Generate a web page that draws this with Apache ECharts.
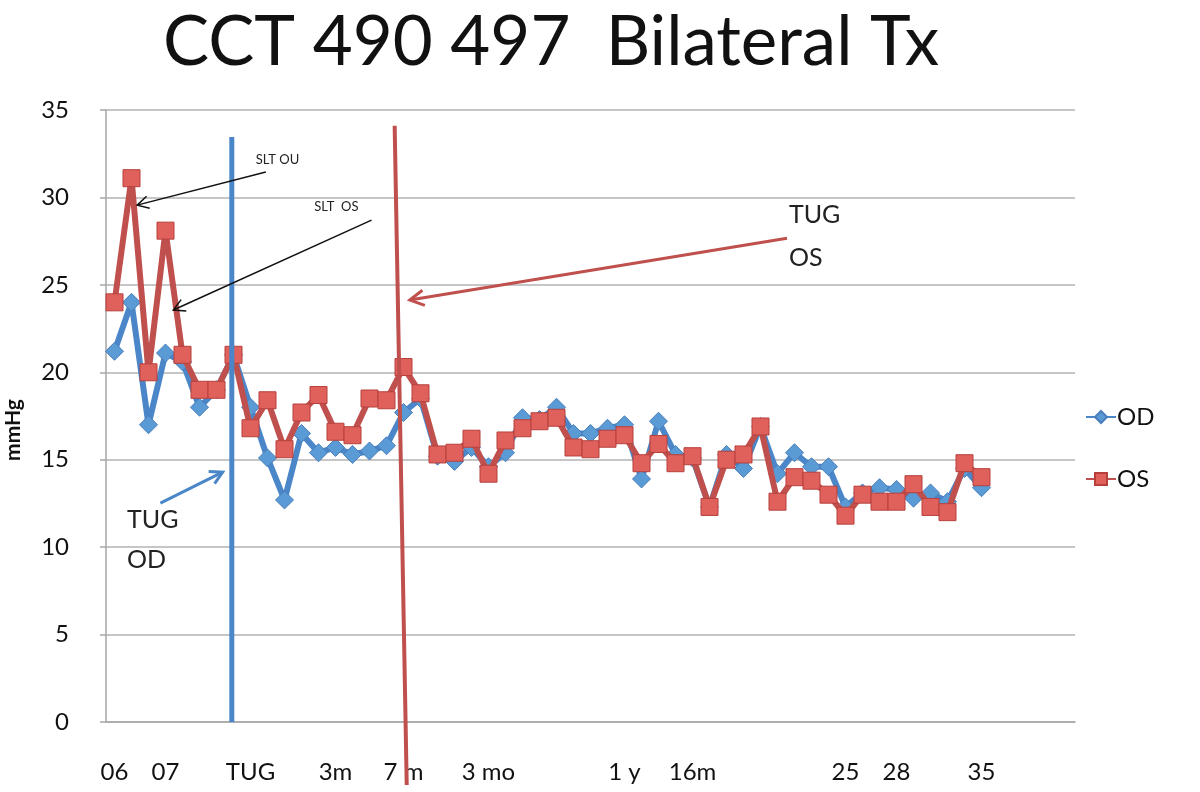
<!DOCTYPE html>
<html>
<head>
<meta charset="utf-8">
<script src="https://cdn.jsdelivr.net/npm/echarts@6/dist/echarts.min.js"></script>
<style>
html, body { margin: 0; padding: 0; background: #fff; }
#chart { width: 1200px; height: 792px; }
</style>
</head>
<body>
<div id="chart"></div>
<script>
// category labels (most visits are unlabeled)
var categories = [
    '06', '', '', '07', '', '', '', '', 'TUG', '',
    '', '', '', '3m', '', '', '', '7 m', '', '',
    '', '', '3 mo', '', '', '', '', '', '', '',
    '1 y', '', '', '', '16m', '', '', '', '', '',
    '', '', '', '25', '', '', '28', '', '', '',
    '', '35', '', '', '', '', ''
];

var valuesOD = [
    21.2, 24.0, 17.0, 21.1, 20.6, 18.0, 19.0, 21.0, 18.0, 15.1,
    12.7, 16.5, 15.4, 15.7, 15.3, 15.5, 15.8, 17.7, 18.5, 15.2,
    14.9, 15.7, 14.6, 15.4, 17.4, 17.3, 18.0, 16.5, 16.5, 16.8,
    17.0, 13.9, 17.2, 15.3, 15.1, 12.3, 15.3, 14.5, 16.9, 14.2,
    15.4, 14.6, 14.6, 12.3, 13.1, 13.4, 13.3, 12.8, 13.1, 12.6,
    14.5, 13.4
];

var valuesOS = [
    24.0, 31.1, 20.0, 28.1, 21.0, 19.0, 19.0, 21.0, 16.8, 18.4,
    15.6, 17.7, 18.7, 16.6, 16.4, 18.5, 18.4, 20.3, 18.8, 15.3,
    15.4, 16.2, 14.2, 16.1, 16.8, 17.2, 17.4, 15.7, 15.6, 16.2,
    16.4, 14.8, 15.9, 14.8, 15.2, 12.3, 15.0, 15.3, 16.9, 12.6,
    14.0, 13.8, 13.0, 11.8, 13.0, 12.6, 12.6, 13.6, 12.3, 12.0,
    14.8, 14.0
];

var FONT = 'Lato';
var BLUE = '#4A86C8', RED = '#C0504D';

var chart = echarts.init(document.getElementById('chart'));

var option = {
    animation: false,
    backgroundColor: '#fff',
    textStyle: { fontFamily: FONT },
    title: {
        text: 'CCT 490 497  Bilateral Tx',
        left: 158,
        top: 3,
        textStyle: { fontFamily: FONT, fontSize: 69, fontWeight: 'normal', color: '#111' }
    },
    grid: { left: 106, right: 125, top: 110, bottom: 70, outerBoundsMode: 'none', containLabel: false },
    legend: {
        orient: 'vertical',
        left: 1080,
        top: 400,
        itemGap: 38,
        itemWidth: 30,
        itemHeight: 15,
        textStyle: { fontFamily: FONT, fontSize: 24, color: '#111', padding: [0, 0, 0, -4] },
        data: ['OD', 'OS']
    },
    xAxis: {
        type: 'category',
        data: categories,
        boundaryGap: true,
        axisLine: { lineStyle: { color: '#A6A6A6', width: 1.5 } },
        axisTick: { show: false },
        axisLabel: { interval: 0, margin: 38, fontSize: 24, color: '#111', fontFamily: FONT }
    },
    yAxis: {
        type: 'value',
        min: 0,
        max: 35,
        interval: 5,
        name: 'mmHg',
        nameLocation: 'middle',
        nameRotate: 90,
        nameGap: 82,
        nameTextStyle: { fontFamily: FONT, fontSize: 21, fontWeight: 'bold', color: '#111', padding: [0, 28, 0, 0] },
        axisLine: { show: true, lineStyle: { color: '#A6A6A6', width: 1.5 } },
        axisTick: { show: true, length: 6, lineStyle: { color: '#A6A6A6', width: 1.5 } },
        axisLabel: { margin: 37, fontSize: 24, color: '#111', fontFamily: FONT },
        splitLine: { lineStyle: { color: '#B3B3B3', width: 1.5 } }
    },
    series: [
        {
            name: 'OD',
            type: 'line',
            data: valuesOD,
            symbol: 'diamond',
            symbolSize: 18,
            lineStyle: { color: BLUE, width: 6 },
            itemStyle: { color: '#5B9BD5', borderColor: '#4A7EBB', borderWidth: 1 },
            z: 3
        },
        {
            name: 'OS',
            type: 'line',
            data: valuesOS,
            symbol: 'rect',
            symbolSize: 17,
            lineStyle: { color: RED, width: 6 },
            itemStyle: { color: '#E0605C', borderColor: '#B6403C', borderWidth: 1 },
            z: 4
        }
    ]
};

chart.setOption(option);

// annotations: anchored in (category index, mmHg) space
var x0 = chart.convertToPixel({ xAxisIndex: 0 }, 0);
var dx = chart.convertToPixel({ xAxisIndex: 0 }, 1) - x0;
function pt(c, v) {
    return [x0 + dx * c, chart.convertToPixel({ yAxisIndex: 0 }, v)];
}

function seg(a, b, color, w) {
    return { type: 'line', z: 10, shape: { x1: a[0], y1: a[1], x2: b[0], y2: b[1] },
             style: { stroke: color, lineWidth: w } };
}

function arrow(a, b, color, w, head) {
    var ang = Math.atan2(b[1] - a[1], b[0] - a[0]);
    var h1 = [b[0] - head * Math.cos(ang - 0.5), b[1] - head * Math.sin(ang - 0.5)];
    var h2 = [b[0] - head * Math.cos(ang + 0.5), b[1] - head * Math.sin(ang + 0.5)];
    return [
        seg(a, b, color, w),
        { type: 'polyline', z: 10, shape: { points: [h1, b, h2] },
          style: { stroke: color, lineWidth: w, fill: null } }
    ];
}

function label(p, text, size, lh) {
    return { type: 'text', z: 11, x: p[0], y: p[1],
             style: { text: text, fontFamily: FONT, fontSize: size, lineHeight: lh || size,
                      fill: '#222', align: 'left', verticalAlign: 'middle' } };
}

var g = [];
// treatment lines
g.push(seg(pt(6.9, 33.45), pt(6.9, 0), BLUE, 5));
g.push(seg(pt(16.48, 34.1), pt(17.19, -3.6), RED, 4));
// SLT notes
g.push(label(pt(8.31, 32.13), 'SLT OU', 13));
g = g.concat(arrow(pt(8.9, 31.45), pt(1.33, 29.56), '#111', 1.5, 13));
g.push(label(pt(11.75, 29.45), 'SLT  OS', 13));
g = g.concat(arrow(pt(15.12, 28.7), pt(3.46, 23.56), '#111', 1.5, 13));
// TUG notes
g.push(label(pt(39.67, 27.79), 'TUG\nOS', 25, 43));
g = g.concat(arrow(pt(39.56, 27.67), pt(17.37, 24.13), RED, 3, 16));
g.push(label(pt(0.74, 10.4), 'TUG\nOD', 25, 40));
g = g.concat(arrow(pt(2.7, 12.52), pt(6.36, 14.29), BLUE, 3, 14));

chart.setOption({ graphic: g });
</script>
</body>
</html>
